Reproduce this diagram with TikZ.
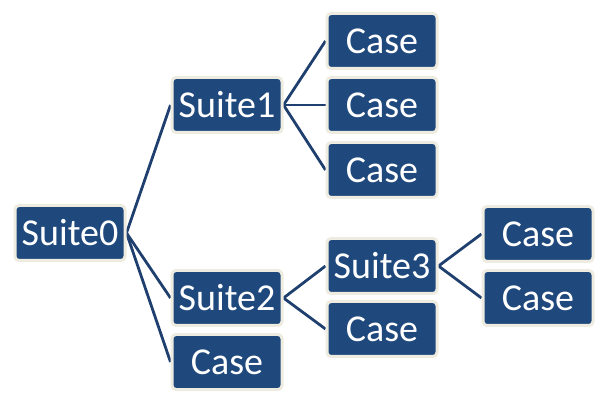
\documentclass[tikz,border=0pt]{standalone}
\usepackage{fontspec}
\setmainfont{Carlito}
\usetikzlibrary{backgrounds}
\definecolor{boxfill}{HTML}{1F497D}
\definecolor{boxrim}{HTML}{EEECE1}
\definecolor{linkcol}{HTML}{1F3F6E}
\tikzset{
  item/.style={draw=boxrim, line width=3pt, fill=boxfill, rounded corners=4pt,
    minimum width=110pt, minimum height=55pt, inner sep=0pt, text=white,
    font=\fontsize{38}{42}\selectfont},
  link/.style={draw=linkcol, line width=2.8pt}
}
\begin{document}
\begin{tikzpicture}[x=1pt,y=1pt]
\useasboundingbox (0,0) rectangle (612,409);
\node[item] (s0) at (70,176) {Suite0};
\node[item] (s1) at (227,304) {Suite1};
\node[item] (s2) at (227,111) {Suite2};
\node[item] (c0) at (227,47) {Case};
\node[item] (c1) at (382,368) {Case};
\node[item] (c2) at (382,304) {Case};
\node[item] (c3) at (382,239) {Case};
\node[item] (s3) at (382,143) {Suite3};
\node[item] (c4) at (382,80) {Case};
\node[item] (c5) at (538,175) {Case};
\node[item] (c6) at (538,111) {Case};
\begin{scope}[on background layer]
\foreach \a/\b in {s0/s1,s0/s2,s0/c0,s1/c1,s1/c2,s1/c3,s2/s3,s2/c4,s3/c5,s3/c6}
  \draw[link] (\a.east) -- (\b.west);
\end{scope}
\end{tikzpicture}
\end{document}
